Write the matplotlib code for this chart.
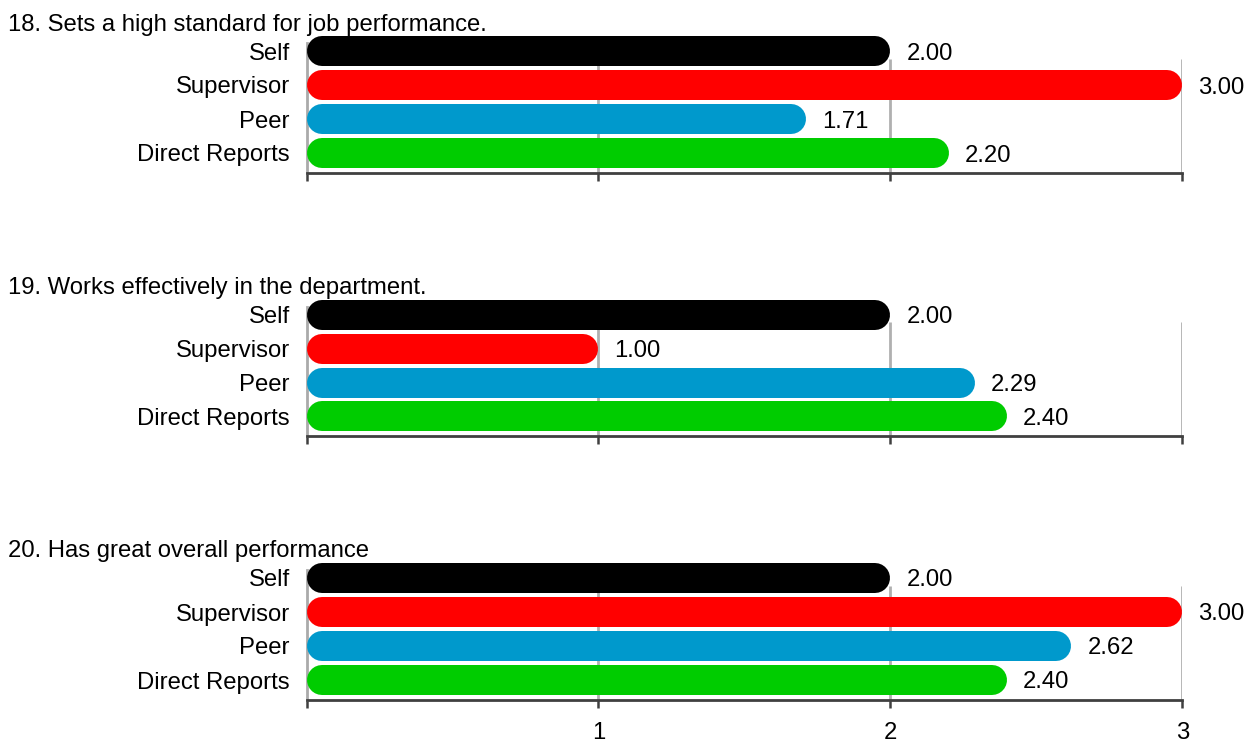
import numpy as np
from matplotlib import pyplot as plt

plt.rcParams['font.family'] = ['Liberation Sans', 'DejaVu Sans']

# data
questions = ['18. Sets a high standard for job performance.',
             '19. Works effectively in the department.',
             '20. Has great overall performance']
groups = ['Self', 'Supervisor', 'Peer', 'Direct Reports']
colors = ['#000000', '#ff0000', '#0099cc', '#00cc00']
q18 = [2.00, 3.00, 1.71, 2.20]
q19 = [2.00, 1.00, 2.29, 2.40]
q20 = [2.00, 3.00, 2.62, 2.40]
scores = [q18, q19, q20]
xticks = [0, 1, 2, 3]
xticklabels = ['', '1', '2', '3']

W, H, DPI = 1250, 741, 100
fs = 17.2
fig = plt.figure(figsize=(W / DPI, H / DPI), dpi=DPI)

x0_px, x3_px = 306.5, 1182.3
unit_px = (x3_px - x0_px) / 3.0
row_px = 34.0
bar_px = 30.0
self_centers = [51, 314.5, 578]   # pixel row of first bar in each panel
top_off, bot_off = 8.0, 20.0      # spine top / axis line offsets (px)
ytop = -top_off / row_px
ybot = 3 + bot_off / row_px
grid_top = 7.5 / row_px

lw_pt = bar_px * 72.0 / DPI
r = (bar_px / 2.0) / unit_px      # round cap radius in data units

for i, (q, vals) in enumerate(zip(questions, scores)):
    c = self_centers[i]
    top_px = c - top_off
    bot_px = c + 3 * row_px + bot_off
    ax = fig.add_axes([x0_px / W, 1 - bot_px / H,
                       (x3_px - x0_px) / W, (bot_px - top_px) / H])
    ax.set_xlim(0, 3)
    ax.set_ylim(ybot, ytop)
    ax.vlines([1, 2, 3], grid_top, ybot, color='#b0b0b0', lw=2, zorder=0)
    yy = np.arange(len(groups))
    for y, v, col in zip(yy, vals, colors):
        ax.plot([r, v - r], [y, y], color=col, lw=lw_pt,
                solid_capstyle='round', clip_on=False, zorder=3)
        ax.annotate('%.2f' % v, (v, y), xytext=(16, 0),
                    textcoords='offset pixels', va='center_baseline',
                    ha='left', fontsize=fs, annotation_clip=False)
    ax.set_yticks(yy)
    ax.set_yticklabels(groups, fontsize=fs, va='center_baseline')
    ax.tick_params(axis='y', length=0, pad=12)
    ax.set_xticks(xticks)
    if i == 2:
        ax.set_xticklabels(xticklabels, fontsize=fs)
    else:
        ax.set_xticklabels([])
    ax.tick_params(axis='x', direction='out', length=6, width=1.8,
                   color='#404040', pad=10)
    for s in ['top', 'right']:
        ax.spines[s].set_visible(False)
    ax.spines['left'].set_color('#aaaaaa')
    ax.spines['left'].set_linewidth(2)
    ax.spines['bottom'].set_color('#404040')
    ax.spines['bottom'].set_linewidth(2)
    ax.patch.set_visible(False)
    fig.text(8 / W, 1 - (c - 29) / H, q, fontsize=fs,
             va='center_baseline', ha='left')

fig.savefig('out.png', dpi=DPI)
